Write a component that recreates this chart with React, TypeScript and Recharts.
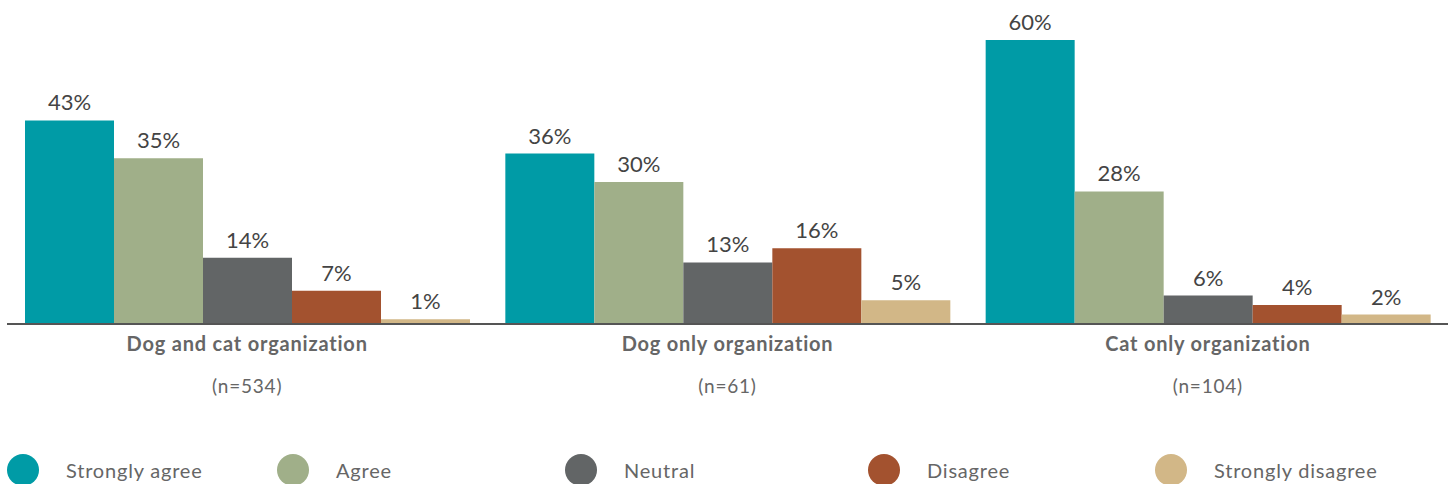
import { BarChart, Bar, XAxis, YAxis, LabelList, Legend } from 'recharts';

const categories = ['Dog and cat organization', 'Dog only organization', 'Cat only organization'];
const sampleSizes = ['(n=534)', '(n=61)', '(n=104)'];

const seriesNames = ['Strongly agree', 'Agree', 'Neutral', 'Disagree', 'Strongly disagree'];
const stronglyAgree = [43, 36, 60];
const agree = [35, 30, 28];
const neutral = [14, 13, 6];
const disagree = [7, 16, 4];
const stronglyDisagree = [1, 5, 2];

const colors = ['#009ba6', '#a0af89', '#626566', '#a3522f', '#d2b787'];
const keys = ['sa', 'a', 'ne', 'd', 'sd'];
const legendLeft = [7, 277, 565, 868, 1155];

const data = categories.map((name, i) => ({
  name,
  sa: stronglyAgree[i],
  a: agree[i],
  ne: neutral[i],
  d: disagree[i],
  sd: stronglyDisagree[i],
}));

const FONT = 'Lato, "Open Sans", sans-serif';

const CategoryTick = ({ x, y, payload, index }: any) => (
  <g transform={`translate(${x},${y})`}>
    <text x={0} y={19} textAnchor="middle" fontFamily={FONT} fontWeight={700} fontSize={20} letterSpacing={0.8} fill="#666">
      {payload.value}
    </text>
    <text x={0} y={61} textAnchor="middle" fontFamily={FONT} fontSize={19} letterSpacing={0.8} fill="#666">
      {sampleSizes[index]}
    </text>
  </g>
);

const renderLegend = () => (
  <div style={{ position: 'relative', width: 1452, height: 40 }}>
    {seriesNames.map((s, i) => (
      <div key={s} style={{ position: 'absolute', left: legendLeft[i], top: 0, display: 'flex', alignItems: 'center' }}>
        <span style={{ width: 32, height: 32, borderRadius: '50%', background: colors[i], display: 'inline-block' }} />
        <span style={{ marginLeft: 27, fontFamily: FONT, fontSize: 20, letterSpacing: 0.8, color: '#666' }}>{s}</span>
      </div>
    ))}
  </div>
);

const App = () => (
  <div style={{ position: 'absolute', left: 0, top: 0, width: 1452, height: 484, background: '#fff' }}>
    <BarChart
      width={1452}
      height={484}
      data={data}
      margin={{ top: 40, right: 4, left: 7, bottom: 0 }}
      barCategoryGap={18}
      barGap={0}
    >
      <XAxis
        dataKey="name"
        tickLine={false}
        axisLine={{ stroke: '#555', strokeWidth: 2 }}
        tick={<CategoryTick />}
        height={120}
        interval={0}
      />
      <YAxis hide domain={[0, 60]} />
      <Legend
        verticalAlign="bottom"
        content={renderLegend}
        wrapperStyle={{ left: 0, top: 454, width: 1452, height: 40 }}
      />
      {keys.map((k, i) => (
        <Bar key={k} dataKey={k} name={seriesNames[i]} fill={colors[i]} isAnimationActive={false}>
          <LabelList
            dataKey={k}
            position="top"
            offset={10}
            formatter={(v: any) => `${v}%`}
            fill="#444"
            fontSize={22}
            fontFamily={FONT}
          />
        </Bar>
      ))}
    </BarChart>
  </div>
);

export default App;
